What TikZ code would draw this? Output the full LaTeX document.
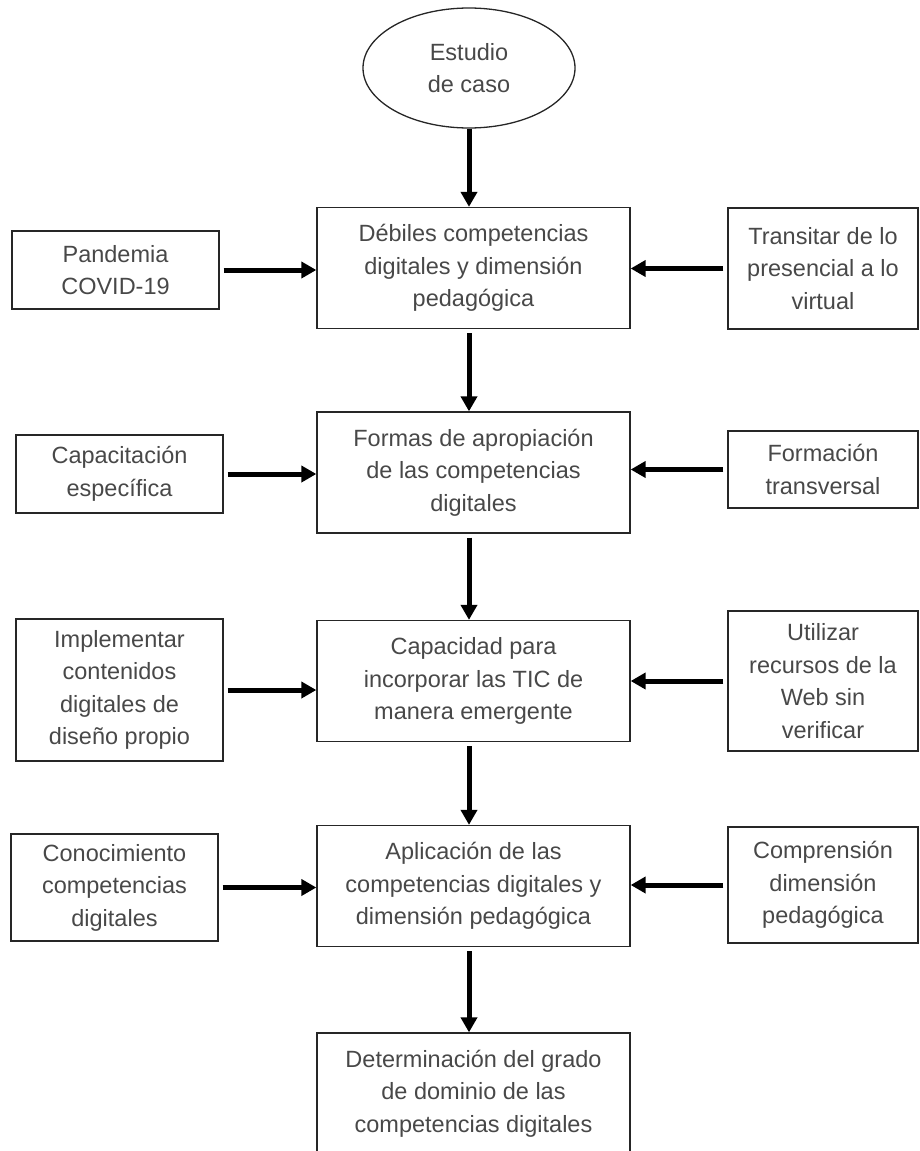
\documentclass[tikz,border=0pt]{standalone}
\usepackage{fontspec}
\setmainfont{Liberation Sans}
\usepackage{tikz}
\usetikzlibrary{arrows.meta}
\usetikzlibrary{shapes.geometric}

\definecolor{txtgray}{HTML}{484848}

\begin{document}
\begin{tikzpicture} [
    x=1pt, y=-1pt,
    every node/.style = {draw=black!85, line width=1.3pt, text=txtgray, align=center,
        inner sep=0pt, font=\fontsize{23.5}{32.5}\selectfont},
    mainbox/.style = {rectangle, minimum width=313pt, minimum height=121pt},
    sidebox/.style = {rectangle, minimum width=207pt},
    rightbox/.style = {rectangle, minimum width=190pt},
    arr/.style = {line width=5pt, -{Triangle[length=15pt,width=16pt]}, shorten <=4pt}
]
    \useasboundingbox (0,0) rectangle (919,1151);

    % central column
    \node [ellipse, minimum width=212pt, minimum height=120pt] (caso) at (469,68) {Estudio\\de caso};
    \node [mainbox] (debiles) at (473.5,268) {Débiles competencias\\digitales y dimensión\\pedagógica};
    \node [mainbox] (formas) at (473.5,472.5) {Formas de apropiación\\de las competencias\\digitales};
    \node [mainbox] (capacidad) at (473.5,681) {Capacidad para\\incorporar las TIC de\\manera emergente};
    \node [mainbox] (aplicacion) at (473.5,886) {Aplicación de las\\competencias digitales y\\dimensión pedagógica};
    \node [mainbox] (dominio) at (473.5,1093.5) {Determinación del grado\\de dominio de las\\competencias digitales};

    % left column
    \node [sidebox, minimum height=78pt] (pandemia) at (115.5,270) {Pandemia\\COVID-19};
    \node [sidebox, minimum height=78pt] (capacitacion) at (119.5,474) {Capacitación\\específica};
    \node [sidebox, minimum height=142pt] (implementar) at (119.5,690) {Implementar\\contenidos\\digitales de\\diseño propio};
    \node [sidebox, minimum height=107pt] (conocimiento) at (114.5,887.5) {Conocimiento\\competencias\\digitales};

    % right column
    \node [rightbox, minimum height=121pt] (transitar) at (823,268.5) {Transitar de lo\\presencial a lo\\virtual};
    \node [rightbox, minimum height=77pt] (formacion) at (823,469.5) {Formación\\transversal};
    \node [rightbox, minimum height=140pt] (utilizar) at (823,681) {Utilizar\\recursos de la\\Web sin\\verificar};
    \node [rightbox, minimum height=116pt] (comprension) at (823,885) {Comprensión\\dimensión\\pedagógica};

    % down the middle
    \draw [arr, shorten <=0pt] (caso.south) -- (caso.south |- debiles.north);
    \draw [arr] (debiles.south -| caso.south) -- (formas.north -| caso.south);
    \draw [arr] (formas.south -| caso.south) -- (capacidad.north -| caso.south);
    \draw [arr] (capacidad.south -| caso.south) -- (aplicacion.north -| caso.south);
    \draw [arr] (aplicacion.south -| caso.south) -- (dominio.north -| caso.south);

    % from the sides
    \draw [arr] (pandemia.east) -- (pandemia.east -| debiles.west);
    \draw [arr] (capacitacion.east) -- (capacitacion.east -| formas.west);
    \draw [arr] (implementar.east) -- (implementar.east -| capacidad.west);
    \draw [arr] (conocimiento.east) -- (conocimiento.east -| aplicacion.west);
    \draw [arr] (transitar.west) -- (transitar.west -| debiles.east);
    \draw [arr] (formacion.west) -- (formacion.west -| formas.east);
    \draw [arr] (utilizar.west) -- (utilizar.west -| capacidad.east);
    \draw [arr] (comprension.west) -- (comprension.west -| aplicacion.east);
\end{tikzpicture}
\end{document}
